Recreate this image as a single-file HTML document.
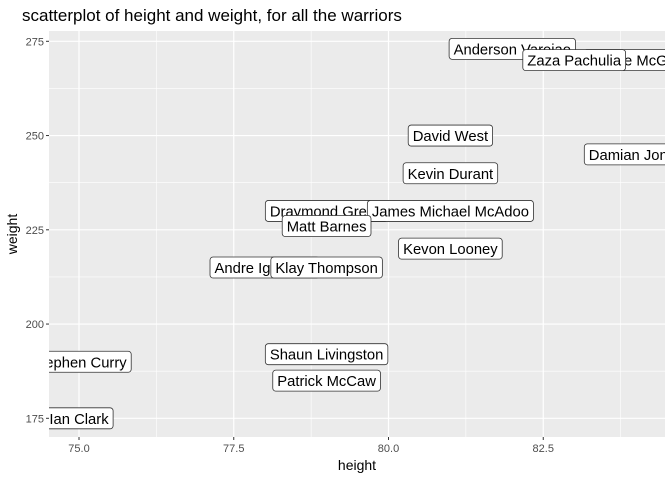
<!DOCTYPE html>
<html><head><meta charset="utf-8"><style>
body{margin:0;background:#fff;}
svg text{font-family:"Liberation Sans",sans-serif;}
</style></head><body>
<svg id="chart" width="672" height="480" viewBox="0 0 672 480">
<text x="22" y="21" font-size="17" fill="#000">scatterplot of height and weight, for all the warriors</text>
<defs><clipPath id="pc"><rect x="49" y="31" width="616" height="406"/></clipPath></defs>
<rect x="49" y="31" width="616" height="406" fill="#ebebeb"/>
<g id="grid"></g>
<g id="labels" clip-path="url(#pc)"></g>
<g id="axes"></g>
<text x="357" y="470" font-size="14" text-anchor="middle">height</text>
<text x="0" y="0" font-size="14" text-anchor="middle" transform="translate(17,234) rotate(-90)">weight</text>
</svg>
<script>
const names=["Ian Clark","Stephen Curry","Andre Iguodala","Klay Thompson","Shaun Livingston","Patrick McCaw","Draymond Green","James Michael McAdoo","Matt Barnes","Kevon Looney","David West","Kevin Durant","Damian Jones","Anderson Varejao","JaVale McGee","Zaza Pachulia"];
const heights=[75,75,78,79,79,79,79,81,79,81,81,81,84,82,84,83];
const weights=[175,190,215,215,192,185,230,230,226,220,250,240,245,273,270,270];
const xTicks=[75,77.5,80,82.5];
const xTickLabels=["75.0","77.5","80.0","82.5"];
const yTicks=[175,200,225,250,275];
const x=v=>79+(v-75)*61.9;
const y=v=>418.3-(v-175)*3.77;
const NS="http://www.w3.org/2000/svg";
function mk(t,a,p){const e=document.createElementNS(NS,t);for(const k in a)e.setAttribute(k,a[k]);p.appendChild(e);return e;}
const grid=document.getElementById('grid'),axes=document.getElementById('axes'),lab=document.getElementById('labels');
for(let i=0;i<xTicks.length+1;i++){const m=xTicks[0]-1.25+i*2.5;const l=mk('line',{x1:x(m),x2:x(m),y1:31,y2:437,stroke:'#fff','stroke-width':0.6},grid);

}
for(let i=0;i<yTicks.length+1;i++){const m=yTicks[0]-12.5+i*25;if(y(m)<31||y(m)>437)continue;const l=mk('line',{x1:49,x2:665,y1:y(m),y2:y(m),stroke:'#fff','stroke-width':0.6},grid);

}
xTicks.forEach((t,i)=>{const l=mk('line',{x1:x(t),x2:x(t),y1:31,y2:437,stroke:'#fff','stroke-width':1.2},grid);


mk('line',{x1:x(t),x2:x(t),y1:437,y2:440,stroke:'#333'},axes);
const tx=mk('text',{x:x(t),y:452,'font-size':11,fill:'#4d4d4d','text-anchor':'middle'},axes);tx.textContent=xTickLabels[i];

});
yTicks.forEach(t=>{const l=mk('line',{x1:49,x2:665,y1:y(t),y2:y(t),stroke:'#fff','stroke-width':1.2},grid);


mk('line',{x1:46,x2:49,y1:y(t),y2:y(t),stroke:'#333'},axes);
const tx=mk('text',{x:44,y:y(t)+4,'font-size':11,fill:'#4d4d4d','text-anchor':'end'},axes);tx.textContent=t;

});
names.forEach((n,i)=>{const g=mk('g',{},lab);


const cx=x(heights[i]),cy=y(weights[i]);
const r=mk('rect',{fill:'#fff',stroke:'#333','stroke-width':0.8,rx:3,ry:3},g);
const t=mk('text',{x:cx,y:cy+5.5,'font-size':14.8,'text-anchor':'middle',fill:'#000'},g);t.textContent=n;
const w=t.getComputedTextLength()+9;
r.setAttribute('x',cx-w/2);r.setAttribute('y',cy-10.5);r.setAttribute('width',w);r.setAttribute('height',21);});
</script>
</body></html>
